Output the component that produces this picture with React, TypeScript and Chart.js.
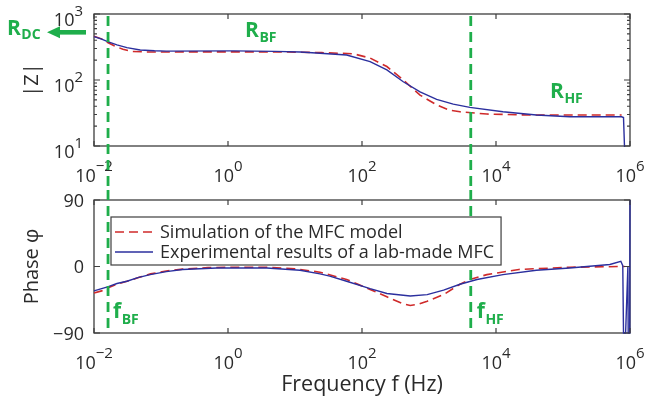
import React, { useEffect, useRef } from "react";
import { Chart, registerables } from "chart.js";

Chart.register(...registerables);

// ---------- data ----------
const seriesLabels = ["Simulation of the MFC model", "Experimental results of a lab-made MFC"];

// |Z| – simulation (red dashed)
const zSimFreq = [0.01, 0.013, 0.016, 0.02, 0.027, 0.038, 0.06, 0.15, 0.5, 2, 8, 25, 74, 132, 235, 413, 735, 1300, 2000, 2900, 7300, 30000, 300000, 750000];
const zSimValues = [460, 420, 370, 330, 292, 270, 266, 266, 267, 267, 265, 260, 250, 215, 160, 100, 59, 42, 35, 33, 30.5, 29.5, 29.5, 29.5];

// |Z| – experiment (blue)
const zExpFreq = [0.01, 0.013, 0.016, 0.022, 0.031, 0.049, 0.08, 0.12, 1.2, 5, 12, 23.6, 59, 132, 235, 413, 735, 1300, 2300, 4070, 12700, 40000, 126000, 750000, 800000, 830000];
const zExpValues = [453, 415, 381, 340, 309, 285, 277, 274, 276, 271, 265, 254, 239, 190, 142, 94, 66, 51, 43, 38.5, 33, 29.5, 27.7, 27.7, 27, 9];

// Phase – simulation (red dashed)
const phSimFreq = [0.01, 0.013, 0.016, 0.022, 0.031, 0.05, 0.07, 0.12, 0.21, 0.5, 1, 4, 10, 23.6, 59, 132, 235, 400, 525, 700, 940, 1650, 2900, 4070, 7300, 22000, 126000, 750000, 830000];
const phSimValues = [-36, -33, -29, -24, -20, -14, -10, -6, -3.5, -1.5, -1, -1, -3, -7.7, -17.6, -31, -41, -50, -52.8, -51, -47, -38, -24, -17.6, -11, -4, -1, 0, 0];

// Phase – experiment (blue)
const phExpFreq = [0.01, 0.013, 0.016, 0.022, 0.031, 0.045, 0.069, 0.12, 0.21, 0.68, 3.8, 11.9, 23.6, 33, 59, 132, 235, 525, 940, 1650, 2900, 5200, 12700, 40000, 126000, 500000, 730000, 780000, 800000, 860000, 930000, 940000, 990000, 1000000];
const phExpValues = [-33, -30, -27.5, -23, -20, -15, -11, -7, -4, -2, -2, -5, -10, -13, -20, -30, -36.5, -40, -38, -32, -24, -17.6, -11, -5, -2, 2.7, 7, 1, -90, -90, 0, -90, -90, 90];

// ticks
const xTickValues = [0.01, 1, 100, 10000, 1000000];
const xTickExponents = ["\u22122", "0", "2", "4", "6"];
const zTickValues = [10, 100, 1000];
const zTickExponents = ["1", "2", "3"];
const phaseTickValues = [-90, 0, 90];
const phaseTickLabels = ["\u221290", "0", "90"];

// annotations
const fBF = 0.0162;
const fHF = 4200;
const rDCValue = 528;
const rBFPos = { f: 1.8, z: 453 };
const rHFPos = { f: 64000, z: 52.9 };
const fLabelPhase = -70;

// ---------- styles ----------
const FONT = '"Open Sans", "DejaVu Sans", sans-serif';
const TEXT = "#2a2a2a";
const FRAME = "#3e3e3e";
const GREEN = "#1fae4b";
const BLUE = "#2b2f9e";
const RED = "#cf2a2a";

function pts(xs: number[], ys: number[]) {
  return xs.map((x, i) => ({ x, y: ys[i] }));
}

function drawPow(ctx: CanvasRenderingContext2D, x: number, baseline: number, exp: string, align: "center" | "right") {
  ctx.font = `18px ${FONT}`;
  const wb = ctx.measureText("10").width;
  ctx.font = `15px ${FONT}`;
  const we = ctx.measureText(exp).width;
  const total = wb + we;
  const x0 = align === "center" ? x - total / 2 : x - total;
  ctx.textAlign = "left";
  ctx.textBaseline = "alphabetic";
  ctx.fillStyle = TEXT;
  ctx.font = `18px ${FONT}`;
  ctx.fillText("10", x0, baseline);
  ctx.font = `15px ${FONT}`;
  ctx.fillText(exp, x0 + wb, baseline - 10.5);
}

function drawGreenLabel(ctx: CanvasRenderingContext2D, x: number, baseline: number, main: string, sub: string, mainSize: number, subSize: number, drop: number) {
  ctx.fillStyle = GREEN;
  ctx.textAlign = "left";
  ctx.textBaseline = "alphabetic";
  ctx.font = `bold ${mainSize}px ${FONT}`;
  ctx.fillText(main, x, baseline);
  const w = ctx.measureText(main).width;
  ctx.font = `bold ${subSize}px ${FONT}`;
  ctx.fillText(sub, x + w + 0.5, baseline + drop);
  return w;
}

function drawFrame(ctx: CanvasRenderingContext2D, a: any) {
  ctx.save();
  ctx.strokeStyle = FRAME;
  ctx.lineWidth = 1.3;
  ctx.setLineDash([]);
  ctx.strokeRect(a.left, a.top, a.right - a.left, a.bottom - a.top);
  ctx.restore();
}

function drawXTicks(ctx: CanvasRenderingContext2D, chart: any) {
  const a = chart.chartArea;
  const xs = chart.scales.x;
  ctx.strokeStyle = FRAME;
  ctx.lineWidth = 1.2;
  xTickValues.forEach((v, i) => {
    const px = xs.getPixelForValue(v);
    ctx.beginPath();
    ctx.moveTo(px, a.bottom);
    ctx.lineTo(px, a.bottom - 5);
    ctx.moveTo(px, a.top);
    ctx.lineTo(px, a.top + 5);
    ctx.stroke();
    drawPow(ctx, px, a.bottom + 35.5, xTickExponents[i], "center");
  });
}

function drawGreenLine(ctx: CanvasRenderingContext2D, x: number, y0: number, y1: number) {
  ctx.save();
  ctx.strokeStyle = GREEN;
  ctx.lineWidth = 2.8;
  ctx.setLineDash([10, 6]);
  ctx.beginPath();
  ctx.moveTo(x, y0);
  ctx.lineTo(x, y1);
  ctx.stroke();
  ctx.restore();
}

const topPlugin = {
  id: "topDecor",
  beforeDatasetsDraw(chart: any) {
    drawFrame(chart.ctx, chart.chartArea);
  },
  afterDraw(chart: any) {
    const ctx: CanvasRenderingContext2D = chart.ctx;
    const a = chart.chartArea;
    const xs = chart.scales.x;
    const ys = chart.scales.y;
    ctx.save();
    drawXTicks(ctx, chart);
    // y ticks (major + minor, inward on both sides)
    ctx.strokeStyle = FRAME;
    ctx.lineWidth = 1.1;
    zTickValues.forEach((v, i) => {
      const py = ys.getPixelForValue(v);
      ctx.beginPath();
      ctx.moveTo(a.left, py);
      ctx.lineTo(a.left + 6, py);
      ctx.moveTo(a.right, py);
      ctx.lineTo(a.right - 6, py);
      ctx.stroke();
      drawPow(ctx, 83, py + 12, zTickExponents[i], "right");
    });
    [10, 100].forEach((d) => {
      for (let m = 2; m <= 9; m++) {
        const py = ys.getPixelForValue(d * m);
        ctx.beginPath();
        ctx.moveTo(a.left, py);
        ctx.lineTo(a.left + 3, py);
        ctx.moveTo(a.right, py);
        ctx.lineTo(a.right - 3, py);
        ctx.stroke();
      }
    });
    // y title
    ctx.save();
    ctx.translate(38, (a.top + a.bottom) / 2);
    ctx.rotate(-Math.PI / 2);
    ctx.fillStyle = TEXT;
    ctx.font = `20px ${FONT}`;
    ctx.textAlign = "center";
    ctx.textBaseline = "alphabetic";
    ctx.fillText("|Z|", 0, 0);
    ctx.restore();
    // green guide lines
    drawGreenLine(ctx, xs.getPixelForValue(fBF), a.top + 2, chart.height);
    drawGreenLine(ctx, xs.getPixelForValue(fHF), a.top + 2, chart.height);
    // R_DC arrow
    const ay = ys.getPixelForValue(rDCValue);
    const tip = a.left - 47;
    ctx.fillStyle = GREEN;
    ctx.fillRect(tip + 12, ay - 2.3, a.left - 8 - (tip + 12), 4.6);
    ctx.beginPath();
    ctx.moveTo(tip, ay);
    ctx.lineTo(tip + 13, ay - 6);
    ctx.lineTo(tip + 13, ay + 6);
    ctx.closePath();
    ctx.fill();
    drawGreenLabel(ctx, 7, ay + 2.7, "R", "DC", 21, 14, 3.5);
    drawGreenLabel(ctx, xs.getPixelForValue(rBFPos.f), ys.getPixelForValue(rBFPos.z), "R", "BF", 21, 14, 5.5);
    drawGreenLabel(ctx, xs.getPixelForValue(rHFPos.f), ys.getPixelForValue(rHFPos.z), "R", "HF", 21, 14, 5);
    ctx.restore();
  },
};

const bottomPlugin = {
  id: "bottomDecor",
  beforeDatasetsDraw(chart: any) {
    drawFrame(chart.ctx, chart.chartArea);
  },
  afterDraw(chart: any) {
    const ctx: CanvasRenderingContext2D = chart.ctx;
    const a = chart.chartArea;
    const xs = chart.scales.x;
    const ys = chart.scales.y;
    ctx.save();
    drawXTicks(ctx, chart);
    ctx.strokeStyle = FRAME;
    ctx.lineWidth = 1.1;
    phaseTickValues.forEach((v, i) => {
      const py = ys.getPixelForValue(v);
      ctx.beginPath();
      ctx.moveTo(a.left, py);
      ctx.lineTo(a.left + 6, py);
      ctx.moveTo(a.right, py);
      ctx.lineTo(a.right - 6, py);
      ctx.stroke();
      ctx.fillStyle = TEXT;
      ctx.font = `18px ${FONT}`;
      ctx.textAlign = "right";
      ctx.textBaseline = "alphabetic";
      ctx.fillText(phaseTickLabels[i], 84, py + 6.5);
    });
    // y title
    ctx.save();
    ctx.translate(38, (a.top + a.bottom) / 2);
    ctx.rotate(-Math.PI / 2);
    ctx.fillStyle = TEXT;
    ctx.font = `20px ${FONT}`;
    ctx.textAlign = "center";
    ctx.textBaseline = "alphabetic";
    ctx.fillText("Phase \u03c6", 0, 0);
    ctx.restore();
    // x title
    ctx.fillStyle = TEXT;
    ctx.font = `21.5px ${FONT}`;
    ctx.textAlign = "center";
    ctx.fillText("Frequency f (Hz)", (a.left + a.right) / 2, a.bottom + 58);
    // green guide lines + labels (beneath the legend)
    const xb = xs.getPixelForValue(fBF);
    const xh = xs.getPixelForValue(fHF);
    drawGreenLine(ctx, xb, 0, a.bottom + 1);
    drawGreenLine(ctx, xh, 0, a.bottom + 1);
    const fy = ys.getPixelForValue(fLabelPhase);
    drawGreenLabel(ctx, xb + 5, fy, "f", "BF", 21, 14, 5.5);
    drawGreenLabel(ctx, xh + 6, fy, "f", "HF", 21, 14, 5.5);
    // legend
    const lx = a.left + 17;
    const ly = a.top + 17;
    const legendFont = `18px ${FONT}`;
    ctx.font = legendFont;
    const textX = lx + 49;
    const maxW = Math.max(...seriesLabels.map((s) => ctx.measureText(s).width));
    const bw = textX - lx + maxW + 7;
    ctx.fillStyle = "#ffffff";
    ctx.fillRect(lx, ly, bw, 48);
    ctx.strokeStyle = FRAME;
    ctx.lineWidth = 1.2;
    ctx.setLineDash([]);
    ctx.strokeRect(lx, ly, bw, 48);
    const legendStyles = [
      { color: RED, dash: [9, 5], width: 1.6 },
      { color: BLUE, dash: [] as number[], width: 1.4 },
    ];
    seriesLabels.forEach((s, i) => {
      const cy = ly + 15 + i * 20;
      ctx.strokeStyle = legendStyles[i].color;
      ctx.lineWidth = legendStyles[i].width;
      ctx.setLineDash(legendStyles[i].dash);
      ctx.beginPath();
      ctx.moveTo(lx + 4, cy);
      ctx.lineTo(lx + 42, cy);
      ctx.stroke();
      ctx.setLineDash([]);
      ctx.fillStyle = TEXT;
      ctx.textAlign = "left";
      ctx.font = legendFont;
      ctx.fillText(s, textX, cy + 6);
    });
    ctx.restore();
  },
};

function lineDataset(label: string, data: any[], color: string, dash: number[], width: number, order: number, clip: any) {
  return {
    label,
    data,
    borderColor: color,
    backgroundColor: color,
    borderDash: dash,
    borderWidth: width,
    pointRadius: 0,
    showLine: true,
    fill: false,
    tension: 0,
    order,
    clip,
  };
}

function hiddenScale(type: string, min: number, max: number, fit: (s: any) => void) {
  return {
    type,
    min,
    max,
    display: true,
    grid: { display: false },
    border: { display: false },
    ticks: { display: false },
    afterFit: fit,
  };
}

export default function App() {
  const topRef = useRef<HTMLCanvasElement>(null);
  const botRef = useRef<HTMLCanvasElement>(null);

  useEffect(() => {
    const top = new Chart(topRef.current as HTMLCanvasElement, {
      type: "scatter",
      data: {
        datasets: [
          lineDataset(seriesLabels[1], pts(zExpFreq, zExpValues), BLUE, [], 1.4, 0, 1),
          lineDataset(seriesLabels[0], pts(zSimFreq, zSimValues), RED, [9, 5], 1.6, 1, 1),
        ],
      },
      options: {
        responsive: false,
        animation: false,
        layout: { padding: { top: 14, right: 19, left: 0, bottom: 0 } },
        plugins: { legend: { display: false }, tooltip: { enabled: false } },
        scales: {
          x: hiddenScale("logarithmic", 0.01, 1e6, (s: any) => { s.height = 44; }),
          y: hiddenScale("logarithmic", 10, 1000, (s: any) => { s.width = 94; }),
        },
      } as any,
      plugins: [topPlugin],
    });
    const bot = new Chart(botRef.current as HTMLCanvasElement, {
      type: "scatter",
      data: {
        datasets: [
          lineDataset(seriesLabels[1], pts(phExpFreq, phExpValues), BLUE, [], 1.4, 0, { left: 1, right: 2, top: 1, bottom: 1 }),
          lineDataset(seriesLabels[0], pts(phSimFreq, phSimValues), RED, [9, 5], 1.6, 1, 1),
        ],
      },
      options: {
        responsive: false,
        animation: false,
        layout: { padding: { top: 10, right: 19, left: 0, bottom: 0 } },
        plugins: { legend: { display: false }, tooltip: { enabled: false } },
        scales: {
          x: hiddenScale("logarithmic", 0.01, 1e6, (s: any) => { s.height = 67; }),
          y: hiddenScale("linear", -90, 90, (s: any) => { s.width = 94; }),
        },
      } as any,
      plugins: [bottomPlugin],
    });
    return () => {
      top.destroy();
      bot.destroy();
    };
  }, []);

  return (
    <div style={{ position: "absolute", left: 0, top: 0, width: 649, height: 400, background: "#ffffff" }}>
      <canvas ref={topRef} width={649} height={190} style={{ position: "absolute", left: 0, top: 0, width: 649, height: 190 }} />
      <canvas ref={botRef} width={649} height={210} style={{ position: "absolute", left: 0, top: 190, width: 649, height: 210 }} />
    </div>
  );
}
